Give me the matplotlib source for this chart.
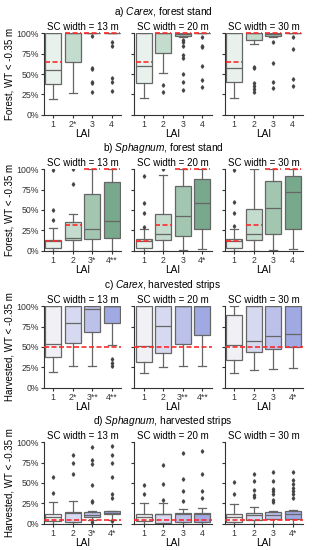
import numpy as np
import matplotlib
matplotlib.use('Agg')
import matplotlib.pyplot as plt

plt.rcParams['font.family'] = ['Liberation Sans', 'DejaVu Sans']
plt.rcParams['mathtext.fontset'] = 'custom'
plt.rcParams['mathtext.it'] = 'Liberation Sans:italic'
plt.rcParams['mathtext.rm'] = 'Liberation Sans'

# ---- data (percent of time WT < -0.35 m), one inner list per SC width panel ----
sc_widths = ['13', '20', '30']
row_titles = [r'a) $\mathit{Carex}$, forest stand',
              r'b) $\mathit{Sphagnum}$, forest stand',
              r'c) $\mathit{Carex}$, harvested strips',
              r'd) $\mathit{Sphagnum}$, harvested strips']
row_ylabels = ['Forest, WT < -0.35 m', 'Forest, WT < -0.35 m',
               'Harvested, WT < -0.35 m', 'Harvested, WT < -0.35 m']

# a) Carex, forest stand
a_lo = [[19, 27, 100, 100], [20, 51, 96, 100], [21, 87, 96, 100]]
a_q1 = [[38, 65, 100, 100], [39, 76, 97, 100], [40, 92, 97, 100]]
a_med = [[55, 100, 100, 100], [60, 100, 99, 100], [58, 100, 99, 100]]
a_q3 = [[100, 100, 100, 100], [100, 100, 100, 100], [100, 100, 100, 100]]
a_hi = [[100, 100, 100, 100], [100, 100, 100, 100], [100, 100, 100, 100]]
a_fl = [[[], [], [97, 57, 56, 40, 39, 28], [89, 85, 45, 40, 29]],
        [[], [37, 28], [92, 89, 85, 73, 70, 50, 40, 30], [95, 84, 83, 60, 42, 34]],
        [[], [59, 58, 39, 35, 31, 28], [89, 63, 40, 33], [95, 81, 44, 35]]]
a_ref = [65, 100, 100, 100]

# b) Sphagnum, forest stand
b_lo = [[0, 0, 0, 0], [0, 0, 1, 2], [0, 0, 1, 2]]
b_q1 = [[3, 13, 14, 15], [3, 13, 18, 26], [3, 13, 20, 26]]
b_med = [[12, 15, 26, 37], [12, 20, 42, 59], [12, 21, 53, 72]]
b_q3 = [[13, 35, 70, 85], [14, 45, 79, 88], [14, 51, 86, 92]]
b_hi = [[28, 45, 100, 100], [26, 93, 100, 100], [26, 100, 100, 100]]
b_fl = [[[99, 50, 38], [100, 82], [], []],
        [[92, 59, 46, 29], [100], [], []],
        [[99, 60, 46, 30], [], [], []]]
b_ref = [12, 31, 100, 100]

# c) Carex, harvested strips
c_lo = [[19, 26, 26, 53], [18, 25, 26, 26], [18, 22, 23, 24]]
c_q1 = [[38, 55, 69, 79], [32, 42, 54, 65], [34, 44, 48, 50]]
c_med = [[54, 79, 97, 100], [51, 76, 100, 100], [53, 58, 64, 66]]
c_q3 = [[100, 100, 100, 100], [100, 100, 100, 100], [89, 100, 100, 100]]
c_hi = [[100, 100, 100, 100], [100, 100, 100, 100], [100, 100, 100, 100]]
c_fl = [[[], [], [], [35, 30, 27]], [[], [], [], []], [[], [], [], []]]
c_ref = 50

# d) Sphagnum, harvested strips
d_lo = [[0, 0, 4, 5], [0, 0, 0, 0], [0, 0, 0, 0]]
d_q1 = [[3, 2, 8, 12], [3, 1, 2, 2], [2, 4, 6, 6]]
d_med = [[8, 13, 11, 13], [8, 12, 12, 12], [8, 10, 11, 12]]
d_q3 = [[12, 14, 14, 15], [12, 12, 13, 13], [12, 13, 14, 15]]
d_hi = [[26, 28, 15, 15], [25, 25, 18, 19], [24, 21, 15, 17]]
d_fl = [[[57, 38], [85, 75, 61], [94, 78, 74, 48, 28, 26, 2], [95, 84, 75, 57, 37, 31, 3]],
        [[48, 37], [72, 49, 29], [87, 55, 40, 28], [89, 61, 40, 31]],
        [[51, 36], [61, 52, 41, 35, 33], [63, 52, 43, 40, 37, 29, 26], [64, 54, 49, 44, 40, 37, 32]]]
d_ref = 5

lai_labels = [[['1', '2*', '3', '4'], ['1', '2', '3', '4'], ['1', '2', '3', '4']],
              [['1', '2', '3*', '4**'], ['1', '2', '3', '4*'], ['1', '2', '3', '4']],
              [['1', '2*', '3**', '4**'], ['1', '2', '3**', '4**'], ['1', '2', '3', '4*']],
              [['1', '2', '3*', '4*'], ['1', '2', '3', '4'], ['1', '2', '3', '4*']]]

green = ['#e8f1eb', '#c4dccd', '#a3c6b1', '#78a98c']
blue = ['#f1f1f5', '#d6d9ef', '#bcc1ea', '#a1a9e2']
rows = [(a_lo, a_q1, a_med, a_q3, a_hi, a_fl, a_ref, green),
        (b_lo, b_q1, b_med, b_q3, b_hi, b_fl, b_ref, green),
        (c_lo, c_q1, c_med, c_q3, c_hi, c_fl, c_ref, blue),
        (d_lo, d_q1, d_med, d_q3, d_hi, d_fl, d_ref, blue)]

W, H = 314, 550
fig = plt.figure(figsize=(W / 100, H / 100), dpi=100)
lefts = [43.5, 134, 224.5]
tops = [33, 169, 306, 442]
aw, ah = 78, 82
edge = '#666666'

for r, (lo, q1, med, q3, hi, fl, ref, pal) in enumerate(rows):
    fig.text(163 / W, 1 - (tops[r] - 21) / H, row_titles[r], ha='center', va='center', fontsize=7.3)
    for p in range(3):
        ax = fig.add_axes([lefts[p] / W, 1 - (tops[r] + ah) / H, aw / W, ah / H])
        stats = []
        for i in range(4):
            stats.append({'whislo': lo[p][i] / 100, 'q1': q1[p][i] / 100, 'med': med[p][i] / 100,
                          'q3': q3[p][i] / 100, 'whishi': hi[p][i] / 100,
                          'fliers': np.array(fl[p][i]) / 100})
        bp = ax.bxp(stats, positions=range(4), widths=0.8, patch_artist=True,
                    capwidths=0.4,
                    boxprops=dict(edgecolor=edge, linewidth=0.9),
                    medianprops=dict(color=edge, linewidth=0.9),
                    whiskerprops=dict(color=edge, linewidth=0.9),
                    capprops=dict(color=edge, linewidth=0.9),
                    flierprops=dict(marker='d', markersize=1.8, markerfacecolor='#444444',
                                    markeredgecolor='#444444'))
        for patch, col in zip(bp['boxes'], pal):
            patch.set_facecolor(col)
        if isinstance(ref, list):
            for i in range(4):
                ax.hlines(ref[i] / 100, i - 0.4, i + 0.4, colors='#ff2a2a', linestyles=(0, (3, 1.5)),
                          linewidth=1.2, zorder=5, clip_on=False)
        else:
            ax.hlines(ref / 100, -0.5, 3.5, colors='#ff2a2a', linestyles=(0, (3, 1.5)),
                      linewidth=1.2, zorder=5)
        ax.set_xlim(-0.5, 3.5)
        ax.set_ylim(-0.005, 1.005)
        ax.set_yticks([0, 0.25, 0.5, 0.75, 1.0])
        ax.set_xticks(range(4))
        ax.set_xticklabels(lai_labels[r][p], fontsize=6.3)
        if p == 0:
            ax.set_yticklabels(['0%', '25%', '50%', '75%', '100%'], fontsize=6.3)
            ax.set_ylabel(row_ylabels[r], fontsize=7, labelpad=1.5)
        else:
            ax.set_yticklabels([])
        ax.tick_params(length=2.5, width=0.8, pad=1, colors='#333333')
        ax.set_xlabel('LAI', fontsize=7.3, labelpad=0)
        ax.set_title('SC width = ' + sc_widths[p] + ' m', fontsize=7, pad=2.5)
        for s in ['top', 'right']:
            ax.spines[s].set_visible(False)
        for s in ['left', 'bottom']:
            ax.spines[s].set_color('#333333')
            ax.spines[s].set_linewidth(0.8)

plt.savefig('out.png', dpi=100)
